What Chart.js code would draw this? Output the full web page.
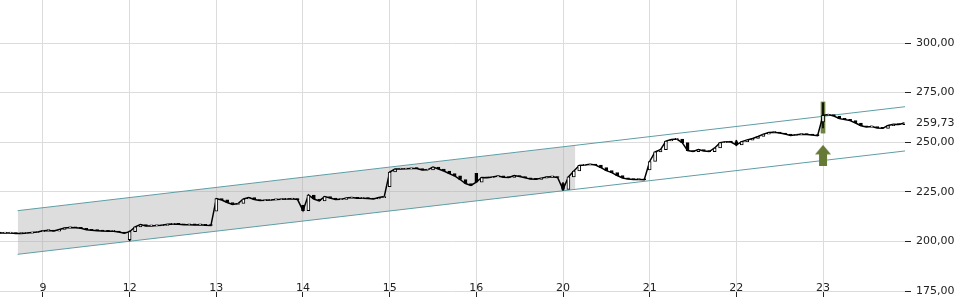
<!DOCTYPE html>
<html lang="de">
<head>
    <meta charset="UTF-8">
    <title>Chart</title>
    <script src="https://cdn.jsdelivr.net/npm/chart.js"></script>
    <style>
        html, body { margin: 0; padding: 0; background: #fff; }
        .box { width: 960px; height: 300px; }
    </style>
</head>
<body>
    <div class="box"><canvas id="kurs"></canvas></div>

    <script>
        // Handelstage (Achsenbeschriftung), Tag 8 nur als Rest links
        const dayLabels = ['9', '12', '13', '14', '15', '16', '20', '21', '22', '23'];

        // Eroeffnungskurs je Sitzung (8, 9, 12, ... 23)
        const sessionOpens = [204.3, 204.9, 200.9, 215.3, 218.3, 227.6, 234.3, 229.2, 236.0, 250.3, 260.2];

        // Schlusskurse je Kerze (16 Kerzen pro Tag)
        const closes8  = [204.2, 204.2, 204.2, 204.0, 204.0, 204.2, 204.5, 204.7];
        const closes9  = [205.4, 205.5, 205.2, 206.0, 206.8, 207.0, 206.9, 206.6, 205.9, 205.6, 205.4, 205.2, 205.1, 205.1, 204.7, 204.1];
        const closes12 = [204.9, 207.3, 208.5, 207.8, 207.8, 208.0, 208.1, 208.6, 208.8, 208.6, 208.4, 208.4, 208.3, 208.4, 208.1, 208.0];
        const closes13 = [221.6, 220.9, 219.6, 218.6, 219.1, 221.4, 222.1, 221.1, 220.6, 220.7, 220.9, 221.1, 221.2, 221.4, 221.5, 221.1];
        const closes14 = [215.5, 223.4, 221.4, 220.4, 222.6, 221.9, 221.1, 221.2, 221.9, 222.1, 221.7, 221.7, 221.6, 221.4, 222.1, 222.6];
        const closes15 = [235.0, 236.5, 236.5, 236.6, 236.8, 236.7, 236.0, 236.1, 237.5, 236.5, 235.5, 234.2, 233.0, 231.2, 229.2, 228.2];
        const closes16 = [229.9, 232.2, 232.1, 232.5, 233.0, 232.3, 232.2, 233.2, 232.7, 232.1, 231.4, 231.3, 231.9, 232.5, 232.6, 232.2];
        const closes20 = [226.2, 232.5, 235.5, 238.3, 238.5, 238.9, 238.5, 237.2, 235.7, 234.7, 233.2, 232.0, 231.4, 231.2, 231.2, 231.1];
        const closes21 = [240.3, 245.1, 246.3, 250.6, 251.4, 251.6, 249.8, 245.8, 245.3, 246.3, 245.6, 245.3, 247.1, 249.8, 250.3, 250.1];
        const closes22 = [248.6, 250.3, 251.1, 251.9, 252.9, 254.1, 254.9, 255.0, 254.6, 254.1, 253.4, 253.8, 254.0, 253.9, 253.6, 253.3];
        const closes23 = [263.5, 264.0, 263.2, 261.9, 261.5, 260.9, 259.7, 258.3, 257.7, 257.9, 257.2, 257.0, 258.4, 259.0, 258.9, 259.73];
        const closes = [closes8, closes9, closes12, closes13, closes14, closes15, closes16, closes20, closes21, closes22, closes23];

        // Dochte einzelner Kerzen: [Sitzung, Kerze, Tief, Hoch]
        const wicks = [[2, 0, 200.3, 205.3], [7, 0, 225.8, 229.6], [9, 0, 248.2, 251.0], [10, 0, 257.2, 269.8]];

        // Markierung der Eroeffnungskerze am 23. und Kaufsignal-Pfeil
        const highlight = [10, 0, 254.6, 270.3];
        const signalX = [9];
        const signalY = [243.4];

        // Trendkanal
        const channelX = [-0.292, 9.946];
        const channelUpper = [215.5, 267.9];
        const channelLower = [193.5, 245.6];
        const channelFillX = [-0.292, 6.142];
        const channelFillUpper = [215.5, 248.4];
        const channelFillLower = [193.5, 226.2];

        const yTicks = [175, 200, 225, 250, 259.73, 275, 300];
        const lastPrice = 259.73;

        const slots = 16;
        const slotX = (s, k) => s - 1 + k / slots;

        const candles = [];
        closes.forEach((arr, s) => {
            const offset = slots - arr.length;
            arr.forEach((c, k) => {
                const o = k === 0 ? sessionOpens[s] : arr[k - 1];
                candles.push({ x: slotX(s, offset + k), y: [o, c] });
            });
        });
        const closeLine = candles.map(c => ({ x: c.x, y: c.y[1] }));
        const wickData = wicks.map(w => ({ x: slotX(w[0], w[1]), y: [w[2], w[3]] }));

        // Pfeil als Punktsymbol
        const arrowImg = document.createElement('canvas');
        arrowImg.width = 16;
        arrowImg.height = 21;
        const g = arrowImg.getContext('2d');
        g.fillStyle = '#667a36';
        g.beginPath();
        g.moveTo(8, 0); g.lineTo(16, 9.5); g.lineTo(12, 9.5); g.lineTo(12, 21);
        g.lineTo(4, 21); g.lineTo(4, 9.5); g.lineTo(0, 9.5);
        g.closePath();
        g.fill();

        const pts = (xs, ys) => xs.map((x, i) => ({ x: x, y: ys[i] }));
        const fmt = v => v.toFixed(2).replace('.', ',');

        new Chart(document.getElementById('kurs'), {
            type: 'bar',
            data: {
                datasets: [{
                    type: 'bar',
                    data: candles,
                    grouped: false,
                    barThickness: 3,
                    minBarLength: 1,
                    borderWidth: 1,
                    borderSkipped: false,
                    borderColor: '#000',
                    backgroundColor: ctx => (ctx.raw && ctx.raw.y[1] >= ctx.raw.y[0]) ? '#fff' : '#000'
                }, {
                    type: 'bar',
                    data: wickData,
                    grouped: false,
                    barThickness: 1,
                    backgroundColor: '#000'
                }, {
                    type: 'line',
                    data: closeLine,
                    borderColor: '#000',
                    borderWidth: 1.5,
                    pointRadius: 0,
                    fill: false
                }, {
                    type: 'bar',
                    data: [{ x: slotX(highlight[0], highlight[1]), y: [highlight[2], highlight[3]] }],
                    grouped: false,
                    barThickness: 4,
                    backgroundColor: 'rgba(95,118,45,0.9)'
                }, {
                    type: 'scatter',
                    data: pts(signalX, signalY),
                    pointStyle: arrowImg
                }, {
                    type: 'line',
                    data: pts(channelX, channelUpper),
                    borderColor: '#5e9ea5',
                    borderWidth: 1,
                    pointRadius: 0,
                    fill: false
                }, {
                    type: 'line',
                    data: pts(channelX, channelLower),
                    borderColor: '#5e9ea5',
                    borderWidth: 1,
                    pointRadius: 0,
                    fill: false
                }, {
                    type: 'line',
                    data: pts(channelFillX, channelFillUpper),
                    borderWidth: 0,
                    pointRadius: 0,
                    backgroundColor: 'rgba(170,170,170,0.4)',
                    fill: '+1'
                }, {
                    type: 'line',
                    data: pts(channelFillX, channelFillLower),
                    borderWidth: 0,
                    pointRadius: 0,
                    fill: false
                }]
            },
            options: {
                responsive: true,
                maintainAspectRatio: false,
                animation: false,
                layout: { autoPadding: false, padding: { left: 0, top: 0, right: 5, bottom: 0 } },
                plugins: {
                    legend: { display: false },
                    tooltip: { enabled: false }
                },
                scales: {
                    x: {
                        type: 'linear',
                        offset: false,
                        min: -0.496,
                        max: 9.946,
                        afterBuildTicks: scale => { scale.ticks = dayLabels.map((_, i) => ({ value: i })); },
                        afterFit: scale => { scale.height = 9; scale.paddingLeft = 0; scale.paddingRight = 0; },
                        grid: { offset: false, color: '#dcdcdc', tickColor: '#222', tickLength: 6 },
                        border: { display: false },
                        ticks: {
                            autoSkip: false,
                            maxRotation: 0,
                            mirror: true,
                            padding: -4,
                            color: '#222',
                            font: { family: 'DejaVu Sans', size: 11 },
                            callback: v => dayLabels[v]
                        }
                    },
                    y: {
                        position: 'right',
                        min: 175,
                        max: 321.7,
                        afterBuildTicks: scale => { scale.ticks = yTicks.map(v => ({ value: v })); },
                        afterFit: scale => { scale.width = 50; scale.paddingTop = 0; scale.paddingBottom = 0; },
                        grid: {
                            color: c => c.tick && c.tick.value === lastPrice ? 'rgba(0,0,0,0)' : '#dcdcdc',
                            tickColor: c => c.tick && c.tick.value === lastPrice ? 'rgba(0,0,0,0)' : '#222',
                            tickLength: 6
                        },
                        border: { display: false },
                        ticks: {
                            autoSkip: false,
                            padding: 5,
                            color: '#222',
                            font: { family: 'DejaVu Sans', size: 11 },
                            callback: v => fmt(v)
                        }
                    }
                }
            }
        });
    </script>
</body>
</html>
